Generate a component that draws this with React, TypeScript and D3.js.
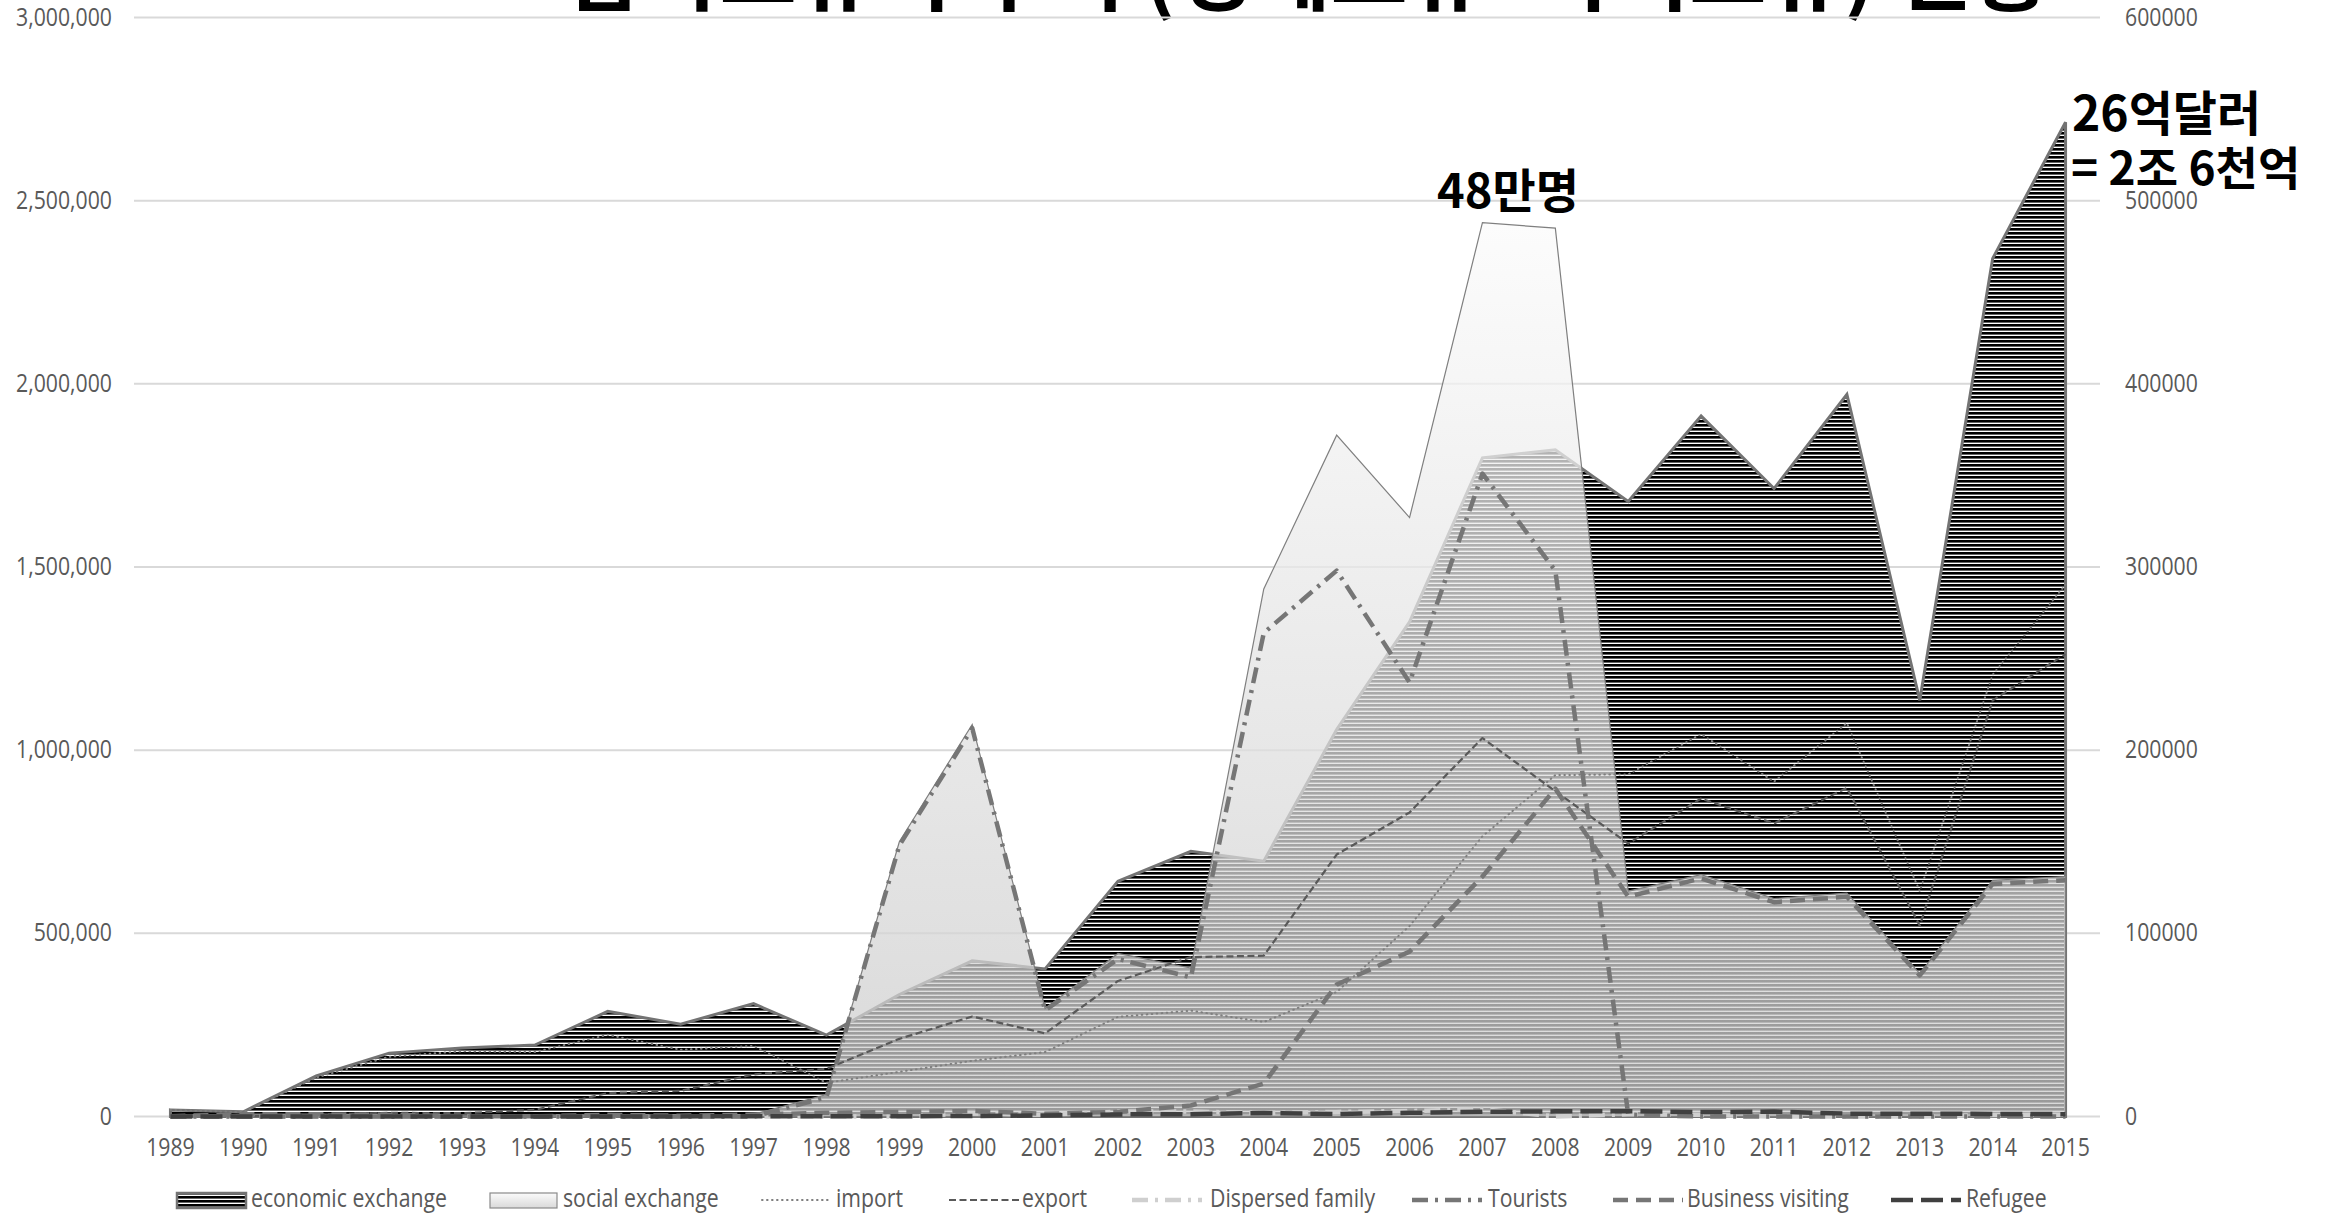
import React from 'react';
import * as d3 from 'd3';

// 연도
const years = [
  '1989', '1990', '1991', '1992', '1993', '1994', '1995', '1996', '1997', '1998',
  '1999', '2000', '2001', '2002', '2003', '2004', '2005', '2006', '2007', '2008',
  '2009', '2010', '2011', '2012', '2013', '2014', '2015',
];

// 경제교류 (천달러, 왼쪽 축)
const economicExchange = [
  18000, 13000, 111000, 173000, 187000, 195000, 287000, 252000, 308000, 222000,
  333000, 425000, 403000, 642000, 724000, 697000, 1056000, 1350000, 1798000, 1820000,
  1679000, 1912000, 1714000, 1971000, 1136000, 2342000, 2714000,
];
const importVals = [
  18000, 12000, 106000, 163000, 178000, 176000, 223000, 182000, 193000, 92000,
  122000, 152000, 176000, 272000, 289000, 258000, 340000, 520000, 765000, 932000,
  934000, 1044000, 914000, 1074000, 615000, 1206000, 1452000,
];
const exportVals = [
  100, 1000, 5000, 10000, 9000, 18000, 64000, 70000, 115000, 130000,
  212000, 273000, 227000, 370000, 435000, 439000, 715000, 830000, 1033000, 888000,
  745000, 868000, 800000, 897000, 521000, 1136000, 1262000,
];

// 사회교류 (명, 오른쪽 축)
const socialExchange = [
  200, 1300, 1300, 1100, 100, 100, 1000, 500, 1200, 12000,
  150000, 214000, 59000, 89000, 81000, 288000, 372000, 327000, 488000, 485000,
  123000, 132000, 119000, 122000, 78000, 129000, 131000,
];
const dispersedFamily = [
  0, 0, 0, 0, 0, 0, 0, 0, 0, 0,
  0, 1700, 900, 2700, 2700, 1900, 2500, 3000, 4000, 0,
  1200, 900, 0, 0, 0, 800, 1000,
];
const tourists = [
  0, 0, 0, 0, 0, 0, 0, 0, 0, 10500,
  148000, 212000, 58000, 86000, 76000, 264000, 298000, 237000, 351000, 298000,
  1000, 0, 0, 0, 0, 0, 0,
];
const businessVisiting = [
  200, 1200, 1200, 1000, 100, 100, 900, 400, 1100, 2000,
  2500, 3000, 1500, 2500, 6000, 18000, 72000, 90000, 131000, 179000,
  120000, 130000, 117000, 120000, 77000, 127000, 129000,
];
const refugee = [
  10, 10, 10, 10, 10, 50, 40, 60, 90, 70,
  150, 310, 580, 1140, 1280, 1890, 1380, 2020, 2550, 2800,
  2910, 2400, 2710, 1500, 1510, 1400, 1280,
];

const leftTicks = [0, 500000, 1000000, 1500000, 2000000, 2500000, 3000000];
const rightTicks = [0, 100000, 200000, 300000, 400000, 500000, 600000];

const W = 2333;
const H = 1215;
const FONT = "'Open Sans', 'Noto Sans', sans-serif";
const KFONT = "'Noto Sans CJK KR', 'Noto Sans CJK SC', sans-serif";

// 좁은 글꼴 느낌을 위해 가로로 살짝 줄인 텍스트
const Narrow: React.FC<{ x: number; y: number; anchor?: string; children: React.ReactNode }> = ({ x, y, anchor = 'start', children }) => (
  <text
    transform={`translate(${x},${y}) scale(0.85,1)`}
    textAnchor={anchor}
    fontFamily={FONT}
    fontSize={25}
    fill="#595959"
  >
    {children}
  </text>
);

const App: React.FC = () => {
  const x = d3.scalePoint<string>().domain(years).range([134, 2102]).padding(0.5);
  const yL = d3.scaleLinear().domain([0, 3000000]).range([1116.5, 17.5]);
  const yR = d3.scaleLinear().domain([0, 600000]).range([1116.5, 17.5]);
  const px = (i: number) => x(years[i]) as number;

  const econArea = d3.area<number>().x((_, i) => px(i)).y0(yL(0)).y1(d => yL(d));
  const socialArea = d3.area<number>().x((_, i) => px(i)).y0(yR(0)).y1(d => yR(d));
  const lineL = d3.line<number>().x((_, i) => px(i)).y(d => yL(d));
  const lineR = d3.line<number>().x((_, i) => px(i)).y(d => yR(d));

  const lines = [
    { name: 'import', values: importVals, gen: lineL, stroke: '#7f7f7f', width: 2, dash: '0.6 4.4', cap: 'round', lx: 762, tx: 836 },
    { name: 'export', values: exportVals, gen: lineL, stroke: '#595959', width: 2.2, dash: '7 3.5', cap: 'butt', lx: 949, tx: 1022 },
    { name: 'Dispersed family', values: dispersedFamily, gen: lineR, stroke: '#cfcfcf', width: 4.5, dash: '16 7 3 7', cap: 'butt', lx: 1132, tx: 1210 },
    { name: 'Tourists', values: tourists, gen: lineR, stroke: '#767676', width: 4.5, dash: '16 7 3 7', cap: 'butt', lx: 1412, tx: 1488 },
    { name: 'Business visiting', values: businessVisiting, gen: lineR, stroke: '#767676', width: 4.5, dash: '15 8', cap: 'butt', lx: 1613, tx: 1687 },
    { name: 'Refugee', values: refugee, gen: lineR, stroke: '#404040', width: 4.5, dash: '22 8', cap: 'butt', lx: 1891, tx: 1966 },
  ];

  const legendY = 1200;

  return (
    <div style={{ position: 'absolute', left: 0, top: 0 }}>
      <svg width={W} height={H} viewBox={`0 0 ${W} ${H}`} style={{ display: 'block', background: '#fff' }}>
        <defs>
          <pattern id="hatch" width={8} height={4} patternUnits="userSpaceOnUse">
            <rect width={8} height={4} fill="#fff" />
            <rect width={8} height={2.6} fill="#000" />
          </pattern>
          <linearGradient id="socialFill" x1="0" y1="0" x2="0" y2="1">
            <stop offset="0" stopColor="#fbfbfb" stopOpacity={0.75} />
            <stop offset="1" stopColor="#cccccc" stopOpacity={0.75} />
          </linearGradient>
          <linearGradient id="socialLegend" x1="0" y1="0" x2="0" y2="1">
            <stop offset="0" stopColor="#fbfbfb" />
            <stop offset="1" stopColor="#d9d9d9" />
          </linearGradient>
        </defs>

        {/* 위쪽이 잘린 제목 */}
        <text x={565} y={4} fontFamily={KFONT} fontSize={84} fontWeight={700} fill="#000">
          남북교류의 추이 (경제교류·사회교류) 현황
        </text>

        {/* 격자 */}
        {leftTicks.map(t => (
          <line key={t} x1={134} x2={2100} y1={yL(t)} y2={yL(t)} stroke="#d9d9d9" strokeWidth={2} />
        ))}

        {/* 경제교류 면적 */}
        <path d={econArea(economicExchange) || ''} fill="url(#hatch)" stroke="#737373" strokeWidth={3} strokeLinejoin="miter" />
        {/* 사회교류 면적 */}
        <path d={socialArea(socialExchange) || ''} fill="url(#socialFill)" stroke="#7f7f7f" strokeWidth={1.2} />

        {/* 선 계열 */}
        {lines.map(l => (
          <path
            key={l.name}
            d={l.gen(l.values) || ''}
            fill="none"
            stroke={l.stroke}
            strokeWidth={l.width}
            strokeDasharray={l.dash}
            strokeLinecap={l.cap as any}
            strokeLinejoin="round"
          />
        ))}

        {/* 축 레이블 */}
        {leftTicks.map(t => (
          <Narrow key={'l' + t} x={112} y={yL(t) + 8} anchor="end">{d3.format(',')(t)}</Narrow>
        ))}
        {rightTicks.map(t => (
          <Narrow key={'r' + t} x={2125} y={yR(t) + 8}>{String(t)}</Narrow>
        ))}
        {years.map(yr => (
          <Narrow key={yr} x={x(yr) as number} y={1156} anchor="middle">{yr}</Narrow>
        ))}

        {/* 주석 */}
        <text x={1437} y={208} fontFamily={KFONT} fontSize={47} fontWeight={700} fill="#000">48만명</text>
        <text x={2072} y={131} fontFamily={KFONT} fontSize={48} fontWeight={700} fill="#000">26억달러</text>
        <text x={2071} y={185} fontFamily={KFONT} fontSize={46} fontWeight={700} fill="#000">= 2조 6천억</text>

        {/* 범례 */}
        <rect x={177} y={legendY - 7} width={69} height={15} fill="url(#hatch)" stroke="#737373" strokeWidth={2.5} />
        <Narrow x={251} y={legendY + 7}>economic exchange</Narrow>
        <rect x={490} y={legendY - 7} width={67} height={15} fill="url(#socialLegend)" stroke="#8a8a8a" strokeWidth={1.2} />
        <Narrow x={563} y={legendY + 7}>social exchange</Narrow>
        {lines.map(l => (
          <g key={'lg' + l.name}>
            <line
              x1={l.lx}
              x2={l.lx + 70}
              y1={legendY}
              y2={legendY}
              stroke={l.stroke}
              strokeWidth={l.width}
              strokeDasharray={l.dash}
              strokeLinecap={l.cap as any}
            />
            <Narrow x={l.tx} y={legendY + 7}>{l.name}</Narrow>
          </g>
        ))}
      </svg>
    </div>
  );
};

export default App;
